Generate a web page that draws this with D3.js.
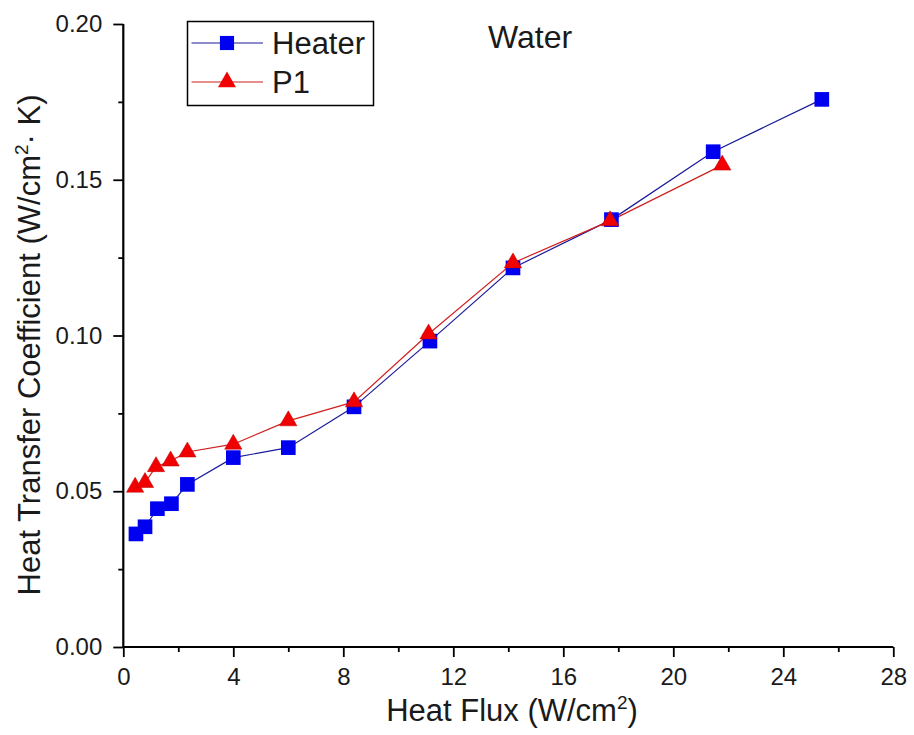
<!DOCTYPE html>
<html><head><meta charset="utf-8">
<script src="https://cdn.jsdelivr.net/npm/d3@7"></script>
<style>body{margin:0;background:#fff}svg{display:block}text{font-family:Arial,"Liberation Sans",sans-serif}</style>
</head><body>
<script>
const heaterX = [0.46, 0.79, 1.24, 1.75, 2.33, 4.0, 6.0, 8.39, 11.15, 14.17, 17.75, 21.45, 25.4];
const heaterY = [0.0363, 0.0386, 0.0444, 0.0460, 0.0522, 0.0608, 0.0640, 0.0771, 0.0982, 0.1217, 0.1372, 0.1590, 0.1758];
const p1X = [0.43, 0.79, 1.19, 1.72, 2.33, 4.0, 6.0, 8.39, 11.1, 14.17, 17.7, 21.78];
const p1Y = [0.0513, 0.0528, 0.0579, 0.0597, 0.0626, 0.0651, 0.0726, 0.0787, 0.1005, 0.1233, 0.1368, 0.1547];
const xTicks = [0, 4, 8, 12, 16, 20, 24, 28];
const yTicks = [0.00, 0.05, 0.10, 0.15, 0.20];
const seriesNames = ["Heater", "P1"];

const W = 914, H = 735;
const svg = d3.select("body").append("svg").attr("width", W).attr("height", H);
const x = d3.scaleLinear().domain([0, 28]).range([123.3, 893.3]);
const y = d3.scaleLinear().domain([0, 0.20]).range([647, 24]);
const txt = "#1a1a1a";

// axes
const xAxis = svg.append("g").attr("transform", "translate(0,647)")
  .call(d3.axisBottom(x).tickValues(xTicks).tickFormat(d3.format("d")).tickSize(10).tickPadding(11));
svg.append("g").attr("transform", "translate(0,647)")
  .call(d3.axisBottom(x).tickValues(d3.range(2, 28, 4)).tickFormat("").tickSize(5))
  .select(".domain").remove();
const yAxis = svg.append("g").attr("transform", "translate(123.3,0)")
  .call(d3.axisLeft(y).tickValues(yTicks).tickFormat(d3.format(".2f")).tickSize(10).tickPadding(11));
svg.append("g").attr("transform", "translate(123.3,0)")
  .call(d3.axisLeft(y).tickValues([0.025, 0.075, 0.125, 0.175]).tickFormat("").tickSize(5))
  .select(".domain").remove();
svg.selectAll(".domain").attr("stroke", "#000").attr("stroke-width", 2.2);
svg.selectAll(".tick line").attr("stroke", "#000").attr("stroke-width", 1.8);
xAxis.selectAll("text").attr("font-size", 24).attr("fill", txt);
yAxis.selectAll("text").attr("font-size", 24).attr("fill", txt);
xAxis.select(".domain").attr("d", "M123.3,0H893.3");
yAxis.select(".domain").attr("d", "M0,647V24");

// titles
const xt = svg.append("text").attr("x", 512).attr("y", 721).attr("text-anchor", "middle")
  .attr("font-size", 31).attr("fill", txt);
xt.append("tspan").text("Heat Flux (W/cm");
xt.append("tspan").text("2").attr("font-size", 19).attr("dy", -12);
xt.append("tspan").text(")").attr("dy", 12);

const yt = svg.append("text").attr("transform", "translate(40,345) rotate(-90)")
  .attr("text-anchor", "middle").attr("font-size", 31).attr("fill", txt);
yt.append("tspan").text("Heat Transfer Coefficient (W/cm");
yt.append("tspan").text("2").attr("font-size", 19).attr("dy", -12);
yt.append("tspan").text("\u00B7 K)").attr("dy", 12);

svg.append("text").attr("x", 488).attr("y", 48).attr("font-size", 32).attr("fill", txt).text("Water");

// lines
const line = d3.line().x(d => x(d[0])).y(d => y(d[1]));
const heater = heaterX.map((v, i) => [v, heaterY[i]]);
const p1 = p1X.map((v, i) => [v, p1Y[i]]);
svg.append("path").datum(heater).attr("d", line).attr("fill", "none").attr("stroke", "#1a1a9a").attr("stroke-width", 1.2);
svg.append("path").datum(p1).attr("d", line).attr("fill", "none").attr("stroke", "#d02020").attr("stroke-width", 1.2);

const sq = d3.symbol().type(d3.symbolSquare).size(215);
const tri = d3.symbol().type(d3.symbolTriangle).size(130);
svg.selectAll(".hs").data(heater).join("path").attr("d", sq)
  .attr("transform", d => `translate(${x(d[0])},${y(d[1])})`).attr("fill", "#0000f0");
svg.selectAll(".pt").data(p1).join("path").attr("d", tri)
  .attr("transform", d => `translate(${x(d[0])},${y(d[1])})`).attr("fill", "#f00000").attr("stroke", "#c00000").attr("stroke-width", 0.5);

// legend
const lg = svg.append("g");
lg.append("rect").attr("x", 187.5).attr("y", 21.5).attr("width", 186).attr("height", 84)
  .attr("fill", "#fff").attr("stroke", "#000").attr("stroke-width", 1.5);
const rows = [{n: seriesNames[0], c: "#1a1a9a", f: "#0000f0", s: d3.symbol().type(d3.symbolSquare).size(200), yy: 43},
              {n: seriesNames[1], c: "#d02020", f: "#f00000", s: d3.symbol().type(d3.symbolTriangle).size(140), yy: 82}];
rows.forEach(r => {
  lg.append("line").attr("x1", 191.5).attr("x2", 263).attr("y1", r.yy).attr("y2", r.yy).attr("stroke", r.c).attr("stroke-width", 1.2);
  lg.append("path").attr("d", r.s).attr("transform", `translate(227,${r.yy})`).attr("fill", r.f);
  lg.append("text").attr("x", 272).attr("y", r.yy + 10.5).attr("font-size", 31).attr("fill", txt).text(r.n);
});
</script>
</body></html>
